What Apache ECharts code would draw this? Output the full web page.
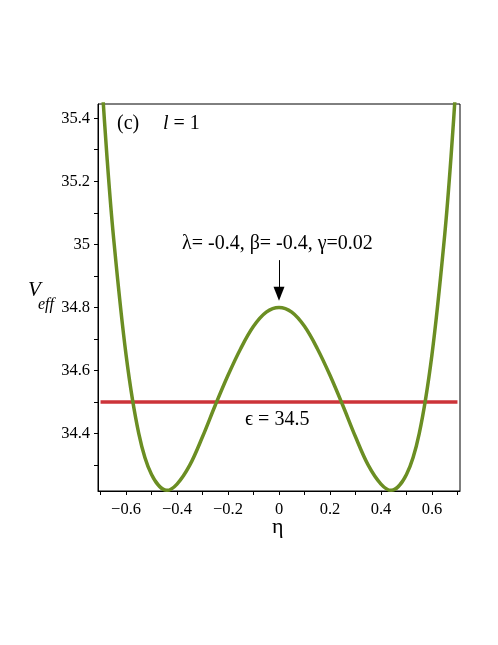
<!DOCTYPE html>
<html>
<head>
<meta charset="utf-8">
<script src="https://cdn.jsdelivr.net/npm/echarts@6/dist/echarts.min.js"></script>
<style>
  html, body { margin: 0; padding: 0; background: #fff; }
  #chart { width: 498px; height: 645px; }
</style>
</head>
<body>
<div id="chart"></div>
<script>
// eta values and V_eff
const eta = [-0.7, -0.675, -0.65, -0.6, -0.55, -0.5, -0.44, -0.4, -0.35, -0.3, -0.25, -0.2, -0.15, -0.1, -0.05, 0,
  0.05, 0.1, 0.15, 0.2, 0.25, 0.3, 0.35, 0.4, 0.44, 0.5, 0.55, 0.6, 0.65, 0.675, 0.7];
const veff = [35.58, 35.28, 35.03, 34.65, 34.40, 34.27, 34.22, 34.24, 34.30, 34.39, 34.49, 34.585, 34.67, 34.74, 34.785, 34.80,
  34.785, 34.74, 34.67, 34.585, 34.49, 34.39, 34.30, 34.24, 34.22, 34.27, 34.40, 34.65, 35.03, 35.28, 35.58];
const epsilon = 34.5;
const xTicks = [-0.7, -0.6, -0.5, -0.4, -0.3, -0.2, -0.1, 0, 0.1, 0.2, 0.3, 0.4, 0.5, 0.6, 0.7];
const xLabels = [-0.6, -0.4, -0.2, 0, 0.2, 0.4, 0.6];
const yTicks = [34.3, 34.4, 34.5, 34.6, 34.7, 34.8, 34.9, 35, 35.1, 35.2, 35.3, 35.4];
const yLabels = [34.4, 34.6, 34.8, 35, 35.2, 35.4];

const serif = '"Liberation Serif", "DejaVu Serif", serif';
const chart = echarts.init(document.getElementById('chart'));

const fmt = v => {
  const s = String(Math.round(v * 10) / 10);
  return s.replace('-', '\u2212');
};

chart.setOption({
  animation: false,
  grid: {
    left: 98, right: 38, top: 104, bottom: 154,
    show: true, borderColor: '#000', borderWidth: 1
  },
  xAxis: {
    type: 'value',
    min: -0.71, max: 0.71,
    axisLine: { onZero: false, lineStyle: { color: '#000', width: 1 } },
    axisTick: { customValues: xTicks, length: 4, lineStyle: { color: '#000' } },
    axisLabel: {
      customValues: xLabels, formatter: fmt, margin: 10,
      color: '#000', fontFamily: serif, fontSize: 16.5
    },
    splitLine: { show: false }
  },
  yAxis: {
    type: 'value',
    min: 34.218, max: 35.445,
    axisLine: { show: true, onZero: false, lineStyle: { color: '#000', width: 1 } },
    axisTick: { show: true, customValues: yTicks, length: 4, lineStyle: { color: '#000' } },
    axisLabel: {
      customValues: yLabels, formatter: v => String(Math.round(v * 10) / 10), margin: 8,
      color: '#000', fontFamily: serif, fontSize: 16.5
    },
    splitLine: { show: false }
  },
  series: [
    {
      type: 'line',
      data: [[-0.7, epsilon], [0.7, epsilon]],
      showSymbol: false,
      lineStyle: { color: '#cc3339', width: 3.5 },
      z: 2
    },
    {
      type: 'line',
      data: eta.map((x, i) => [x, veff[i]]),
      smooth: 0.35,
      showSymbol: false,
      clip: true,
      lineStyle: { color: '#6b8e23', width: 3.5 },
      z: 3,
      markLine: {
        silent: true,
        symbolSize: [11, 14],
        label: { show: false },
        lineStyle: { color: '#000', width: 1, type: 'solid' },
        data: [[
          { coord: [0, 34.95], symbol: 'none' },
          { coord: [0, 34.843], symbol: 'triangle', symbolRotate: 180 }
        ]]
      }
    }
  ],
  graphic: [
    { type: 'text', left: 117, top: 114, style: { text: '(c)', font: '20px ' + serif, fill: '#000' } },
    { type: 'text', left: 163, top: 114, style: {
      text: '{i|l} = 1',
      font: '20px ' + serif, fill: '#000',
      rich: { i: { fontStyle: 'italic', fontFamily: serif, fontSize: 20 } }
    } },
    { type: 'text', left: 182, top: 234, style: {
      text: '\u03bb= -0.4, \u03b2= -0.4, \u03b3=0.02', font: '20px ' + serif, fill: '#000' } },
    { type: 'text', left: 245, top: 410, style: { text: '\u03f5 = 34.5', font: '20px ' + serif, fill: '#000' } },
    { type: 'text', left: 272, top: 516, style: { text: '\u03b7', font: '22px ' + serif, fill: '#000' } },
    { type: 'text', left: 28, top: 280, style: { text: 'V', font: 'italic 21px ' + serif, fill: '#000' } },
    { type: 'text', left: 38, top: 297, style: { text: 'eff', font: 'italic 16px ' + serif, fill: '#000' } }
  ]
});
</script>
</body>
</html>
